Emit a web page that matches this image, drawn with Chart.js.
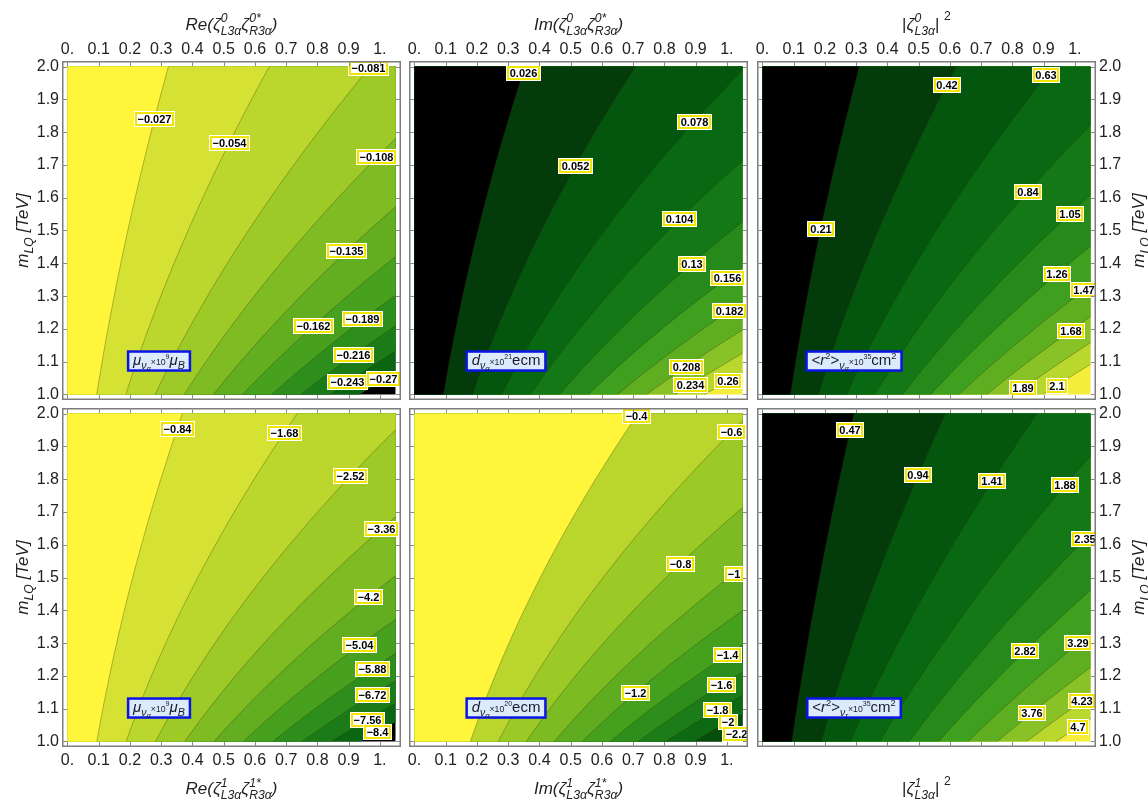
<!DOCTYPE html>
<html><head><meta charset="utf-8">
<script src="https://cdn.jsdelivr.net/npm/chart.js@4.4.1/dist/chart.umd.min.js"></script>
<style>
html,body{margin:0;padding:0;background:#fff;width:1148px;height:801px;overflow:hidden}
canvas{position:absolute;left:0;top:0}
</style></head><body>
<canvas id="c0" width="1148" height="801"></canvas>
<canvas id="c1" width="1148" height="801"></canvas>
<canvas id="c2" width="1148" height="801"></canvas>
<canvas id="c3" width="1148" height="801"></canvas>
<canvas id="c4" width="1148" height="801"></canvas>
<canvas id="c5" width="1148" height="801"></canvas>
<script>
// ---------- data ----------
const xTickValues = [0, 0.1, 0.2, 0.3, 0.4, 0.5, 0.6, 0.7, 0.8, 0.9, 1.0];
const xTickLabels = ['0.', '0.1', '0.2', '0.3', '0.4', '0.5', '0.6', '0.7', '0.8', '0.9', '1.'];
const yTickValues = [1.0, 1.1, 1.2, 1.3, 1.4, 1.5, 1.6, 1.7, 1.8, 1.9, 2.0];
const yTickLabels = ['1.0', '1.1', '1.2', '1.3', '1.4', '1.5', '1.6', '1.7', '1.8', '1.9', '2.0'];
const xRange = [0, 1.05];     // coupling range
const mRange = [1, 2];        // m_LQ range [TeV]

// contour levels of each panel
const levelsTL = [-0.027, -0.054, -0.081, -0.108, -0.135, -0.162, -0.189, -0.216, -0.243, -0.27];
const levelsTM = [0.026, 0.052, 0.078, 0.104, 0.13, 0.156, 0.182, 0.208, 0.234, 0.26];
const levelsTR = [0.21, 0.42, 0.63, 0.84, 1.05, 1.26, 1.47, 1.68, 1.89, 2.1];
const levelsBL = [-0.84, -1.68, -2.52, -3.36, -4.2, -5.04, -5.88, -6.72, -7.56, -8.4];
const levelsBM = [-0.4, -0.6, -0.8, -1, -1.2, -1.4, -1.6, -1.8, -2, -2.2];
const levelsBR = [0.47, 0.94, 1.41, 1.88, 2.35, 2.82, 3.29, 3.76, 4.23, 4.7];

// value of the plotted quantity at coupling = 1, m_LQ = 1 TeV, and its fall-off power in m_LQ
const unitValueTL = -0.289, massPowerTL = 1.79;
const unitValueTM = 0.280,  massPowerTM = 1.93;
const unitValueTR = 2.34,   massPowerTR = 1.79;
const unitValueBL = -8.95,  massPowerBL = 1.97;
const unitValueBM = -2.235, massPowerBM = 2.0;
const unitValueBR = 5.0,    massPowerBR = 1.64;

// m_LQ at which each contour label sits
const labelMassTL = [1.841, 1.768, 1.994, 1.723, 1.436, 1.210, 1.229, 1.119, 1.037, 1.046];
const labelMassTM = [1.981, 1.698, 1.831, 1.534, 1.399, 1.355, 1.255, 1.085, 1.030, 1.041];
const labelMassTR = [1.506, 1.945, 1.973, 1.617, 1.551, 1.368, 1.318, 1.195, 1.019, 1.027];
const labelMassBL = [1.953, 1.941, 1.809, 1.648, 1.440, 1.293, 1.222, 1.143, 1.067, 1.028];
const labelMassBM = [1.992, 1.943, 1.542, 1.511, 1.148, 1.265, 1.172, 1.097, 1.059, 1.024];
const labelMassBR = [1.949, 1.811, 1.794, 1.781, 1.616, 1.275, 1.299, 1.087, 1.123, 1.045];

// ---------- styles ----------
const FONT = '"Liberation Sans", Arial, sans-serif';
const NEG = ['#FFF53B','#D5E234','#BBD72D','#9DCA27','#7FBB23','#62AD20','#47A01E','#2E8E1C','#1B7B18','#0B6611','#000000'];
const NEG_BM = ['#FFF53B','#BAD62C','#9BCA26','#7DBB22','#60AC20','#45A01E','#2D8E1C','#1B7C18','#0D6A12','#054E0C','#000000'];
const POS = ['#000000','#033B0A','#04560F','#086912','#147816','#268A1A','#3F9F1E','#5FAE21','#88C226','#BAD72D','#F4EE3A'];

const zeta = (sup, sub) => [{t:'ζ',it:1},{t:sup,it:1,s:0.72,dy:-0.42,k:1},{t:sub,it:1,s:0.72,dy:0.3}];
const titleTL = [{t:'Re(',it:1}, ...zeta('0','L3α'), ...zeta('0*','R3α'), {t:')',it:1}];
const titleTM = [{t:'Im(',it:1}, ...zeta('0','L3α'), ...zeta('0*','R3α'), {t:')',it:1}];
const titleTR = [{t:'|'}, ...zeta('0','L3α'), {t:'|'}, {t:' '}, {t:'2', s:0.72, dy:-0.55}];
const titleBL = [{t:'Re(',it:1}, ...zeta('1','L3α'), ...zeta('1*','R3α'), {t:')',it:1}];
const titleBM = [{t:'Im(',it:1}, ...zeta('1','L3α'), ...zeta('1*','R3α'), {t:')',it:1}];
const titleBR = [{t:'|'}, ...zeta('1','L3α'), {t:'|'}, {t:' '}, {t:'2', s:0.72, dy:-0.55}];
const titleY = [{t:'m',it:1},{t:'LQ',it:1,s:0.72,dy:0.3},{t:' [TeV]',it:1}];

const nuSub = (g) => [{t:'ν',it:1,s:0.7,dy:0.25},{t:g,it:1,s:0.5,dy:0.4}];
const tenPow = (p) => [{t:'×10',s:0.58,dy:-0.02},{t:p,s:0.47,dy:-0.38}];
const legMu = [{t:'μ',it:1}, ...nuSub('α'), ...tenPow('9'), {t:'μ',it:1},{t:'B',it:1,s:0.72,dy:0.25}];
const legD21 = [{t:'d',it:1}, ...nuSub('α'), ...tenPow('21'), {t:'ecm'}];
const legD20 = [{t:'d',it:1}, ...nuSub('α'), ...tenPow('20'), {t:'ecm'}];
const legR_a = [{t:'<'},{t:'r',it:1},{t:'2',s:0.62,dy:-0.42},{t:'>'}, ...nuSub('α'), ...tenPow('35'), {t:'cm'},{t:'2',s:0.62,dy:-0.42}];
const legR_t = [{t:'<'},{t:'r',it:1},{t:'2',s:0.62,dy:-0.42},{t:'>'}, ...nuSub('τ'), ...tenPow('35'), {t:'cm'},{t:'2',s:0.62,dy:-0.42}];

const panels = [
  {id:'c0', levels:levelsTL, unit:unitValueTL, pow:massPowerTL, labelM:labelMassTL, colors:NEG,
   frame:[62,61,401,400], xPos:'top', xLab:true, yPos:'left', yLab:true, title:titleTL, legend:legMu, yTitle:'left'},
  {id:'c1', levels:levelsTM, unit:unitValueTM, pow:massPowerTM, labelM:labelMassTM, colors:POS,
   frame:[409,61,748,400], xPos:'top', xLab:true, yPos:'left', yLab:false, title:titleTM, legend:legD21},
  {id:'c2', levels:levelsTR, unit:unitValueTR, pow:massPowerTR, labelM:labelMassTR, colors:POS,
   frame:[757,61,1096,400], xPos:'top', xLab:true, yPos:'right', yLab:true, title:titleTR, legend:legR_a, yTitle:'right'},
  {id:'c3', levels:levelsBL, unit:unitValueBL, pow:massPowerBL, labelM:labelMassBL, colors:NEG,
   frame:[62,408,401,747], xPos:'bottom', xLab:true, yPos:'left', yLab:true, title:titleBL, legend:legMu, yTitle:'left'},
  {id:'c4', levels:levelsBM, unit:unitValueBM, pow:massPowerBM, labelM:labelMassBM, colors:NEG_BM,
   frame:[409,408,748,747], xPos:'bottom', xLab:true, yPos:'left', yLab:false, title:titleBM, legend:legD20},
  {id:'c5', levels:levelsBR, unit:unitValueBR, pow:massPowerBR, labelM:labelMassBR, colors:POS,
   frame:[757,408,1096,747], xPos:'bottom', xLab:false, yPos:'right', yLab:true, title:titleBR, legend:legR_t, yTitle:'right'}
];

const SAMPLES = 48;
const X_PAD = 0.0176, Y_PAD = 0.0168;

function contourPoints(k, pow) {
  const mMax = Math.min(mRange[1], Math.pow(xRange[1] / k, 1 / pow));
  const pts = [];
  if (mMax <= mRange[0]) return pts;
  for (let i = 0; i <= SAMPLES; i++) {
    const m = mRange[0] + (mMax - mRange[0]) * i / SAMPLES;
    pts.push({x: k * Math.pow(m, pow), y: m});
  }
  return pts;
}

function buildDatasets(P) {
  const ds = [];
  const ks = P.levels.map(L => L / P.unit);
  ks.forEach(k => {
    ds.push({data: contourPoints(k, P.pow), borderColor: 'rgba(50,45,0,0.4)', borderWidth: 0.8,
             pointRadius: 0, pointHitRadius: 0, fill: false});
  });
  ks.forEach((k, i) => {
    let pts = contourPoints(k, P.pow);
    if (pts.length === 0) pts = [{x: xRange[1], y: mRange[0]}];
    if (pts[pts.length - 1].y < mRange[1]) pts.push({x: xRange[1], y: mRange[1]});
    pts.push({x: xRange[0], y: mRange[1]}, {x: xRange[0], y: mRange[0]});
    ds.push({data: pts, backgroundColor: P.colors[i], borderColor: 'rgba(0,0,0,0)', borderWidth: 0,
             pointRadius: 0, pointHitRadius: 0, fill: 'shape'});
  });
  ds.push({data: [{x: xRange[0], y: mRange[0]}, {x: xRange[1], y: mRange[0]}, {x: xRange[1], y: mRange[1]}, {x: xRange[0], y: mRange[1]}],
           backgroundColor: P.colors[P.levels.length], borderColor: 'rgba(0,0,0,0)', borderWidth: 0,
           pointRadius: 0, pointHitRadius: 0, fill: 'shape'});
  return ds;
}

function fnt(tk, base) {
  return (tk.it ? 'italic ' : '') + (tk.b ? 'bold ' : '') + (base * (tk.s || 1)).toFixed(2) + 'px ' + FONT;
}
function layoutRich(ctx, toks, base) {
  let cx = 0, gw = 0; const pos = [];
  for (const tk of toks) {
    ctx.font = fnt(tk, base);
    const tw = ctx.measureText(tk.t).width;
    pos.push(cx);
    if (tk.k) gw = Math.max(gw, tw); else { cx += Math.max(gw, tw); gw = 0; }
  }
  return {pos, width: cx};
}
function drawRich(ctx, toks, x, y, base, color) {
  const L = layoutRich(ctx, toks, base);
  const x0 = x - L.width / 2;
  ctx.textAlign = 'left'; ctx.textBaseline = 'alphabetic'; ctx.fillStyle = color;
  toks.forEach((tk, i) => { ctx.font = fnt(tk, base); ctx.fillText(tk.t, x0 + L.pos[i], y + (tk.dy || 0) * base); });
  return L.width;
}

function makePlugin(P) {
  return {
    id: 'deco' + P.id,
    afterDatasetsDraw(chart) {
      const ctx = chart.ctx, ca = chart.chartArea, xs = chart.scales.x, ys = chart.scales.y;
      ctx.save();
      ctx.beginPath(); ctx.rect(ca.left, ca.top, ca.right - ca.left, ca.bottom - ca.top); ctx.clip();
      // contour labels
      P.levels.forEach((L, i) => {
        const k = L / P.unit, m = P.labelM[i];
        const px = xs.getPixelForValue(k * Math.pow(m, P.pow)), py = ys.getPixelForValue(m);
        const txt = (L < 0 ? '\u2212' : '') + String(Math.abs(L));
        ctx.font = 'bold 11px ' + FONT;
        const tw = ctx.measureText(txt).width;
        const bw = Math.round(tw + 5), bh = 14;
        const bx = Math.round(px - bw / 2), by = Math.round(py - bh / 2);
        ctx.fillStyle = '#ffffff'; ctx.fillRect(bx - 1, by - 1, bw + 2, bh + 2);
        ctx.fillStyle = '#F2E600'; ctx.fillRect(bx, by, bw, bh);
        ctx.fillStyle = '#ffffff'; ctx.fillRect(bx + 2, by + 2, bw - 4, bh - 4);
        ctx.fillStyle = '#000'; ctx.textAlign = 'center'; ctx.textBaseline = 'middle';
        ctx.fillText(txt, bx + bw / 2, by + bh / 2 + 0.5);
      });
      // legend box
      const cx = xs.getPixelForValue(0.293), cy = ys.getPixelForValue(1.102);
      const base = 15;
      const lay = layoutRich(ctx, P.legend, base);
      const w = lay.width + 10, h = 19;
      ctx.fillStyle = '#DCEBFB'; ctx.fillRect(cx - w / 2, cy - h / 2, w, h);
      ctx.strokeStyle = '#0A14E6'; ctx.lineWidth = 2.5; ctx.strokeRect(cx - w / 2, cy - h / 2, w, h);
      drawRich(ctx, P.legend, cx, cy + 4, base, '#1a1a2a');
      ctx.restore();
    },
    afterDraw(chart) {
      const ctx = chart.ctx, ca = chart.chartArea, xs = chart.scales.x, ys = chart.scales.y;
      ctx.save();
      // frame
      ctx.strokeStyle = '#7d7d7d'; ctx.lineWidth = 1.5;
      ctx.strokeRect(ca.left + 0.75, ca.top + 0.75, ca.right - ca.left - 1.5, ca.bottom - ca.top - 1.5);
      // inward ticks
      ctx.lineWidth = 1; ctx.strokeStyle = '#8a8a8a';
      ctx.beginPath();
      xTickValues.forEach(v => {
        const p = Math.round(xs.getPixelForValue(v)) + 0.5;
        ctx.moveTo(p, ca.top); ctx.lineTo(p, ca.top + 5);
        ctx.moveTo(p, ca.bottom); ctx.lineTo(p, ca.bottom - 5);
      });
      yTickValues.forEach(v => {
        const p = Math.round(ys.getPixelForValue(v)) + 0.5;
        ctx.moveTo(ca.left, p); ctx.lineTo(ca.left + 5, p);
        ctx.moveTo(ca.right, p); ctx.lineTo(ca.right - 5, p);
      });
      ctx.stroke();
      // x title
      const midX = (ca.left + ca.right) / 2;
      drawRich(ctx, P.title, midX, P.xPos === 'top' ? 29.5 : 794, 17, '#222');
      // y title
      if (P.yTitle) {
        const midY = (ca.top + ca.bottom) / 2;
        ctx.save();
        ctx.translate(P.yTitle === 'left' ? 28 : 1144, midY);
        ctx.rotate(-Math.PI / 2);
        drawRich(ctx, titleY, 0, 0, 17, '#222');
        ctx.restore();
      }
      ctx.restore();
    }
  };
}

panels.forEach(P => {
  const [fl, ft, fr, fb] = P.frame;
  const xH = P.xLab ? 40 : 0;
  const yW = P.yLab ? 40 : 0;
  const pad = {
    left: fl - (P.yPos === 'left' ? yW : 0),
    right: 1148 - fr - (P.yPos === 'right' ? yW : 0),
    top: ft - (P.xPos === 'top' ? xH : 0),
    bottom: 801 - fb - (P.xPos === 'bottom' ? xH : 0)
  };
  new Chart(document.getElementById(P.id), {
    type: 'line',
    data: {datasets: buildDatasets(P)},
    plugins: [makePlugin(P)],
    options: {
      animation: false, responsive: false, events: [],
      layout: {padding: pad},
      plugins: {legend: {display: false}, tooltip: {enabled: false}},
      scales: {
        x: {
          type: 'linear', position: P.xPos, min: xRange[0] - X_PAD, max: xRange[1] + X_PAD,
          grid: {display: false, drawTicks: false}, border: {display: false},
          afterBuildTicks: s => { s.ticks = xTickValues.map(v => ({value: v})); },
          afterFit: s => { s.height = xH; },
          ticks: {display: P.xLab, autoSkip: false, maxRotation: 0, minRotation: 0, padding: P.xPos === 'top' ? 2 : 4,
                  color: '#222', font: {family: FONT, size: 16},
                  callback: (v, i) => xTickLabels[i]}
        },
        y: {
          type: 'linear', position: P.yPos, min: mRange[0] - Y_PAD, max: mRange[1] + Y_PAD,
          grid: {display: false, drawTicks: false}, border: {display: false},
          afterBuildTicks: s => { s.ticks = yTickValues.map(v => ({value: v})); },
          afterFit: s => { s.width = yW; },
          ticks: {display: P.yLab, autoSkip: false, padding: 3,
                  color: '#222', font: {family: FONT, size: 16},
                  callback: (v, i) => yTickLabels[i]}
        }
      }
    }
  });
});
</script>
</body></html>
